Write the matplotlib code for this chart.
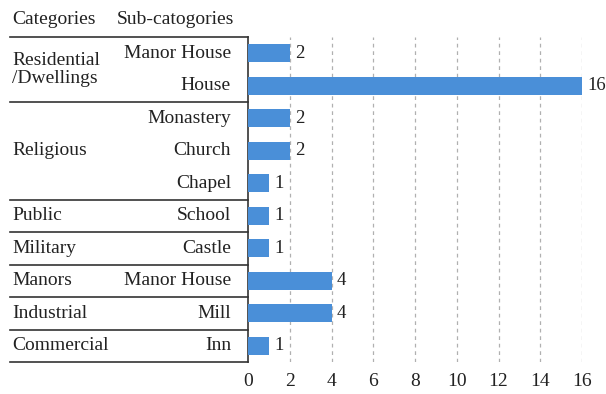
import numpy as np
import matplotlib.pyplot as plt

plt.rcParams['font.family'] = ['Liberation Serif', 'DejaVu Serif']

categories = ["Residential\n/Dwellings", "Religious", "Public", "Military",
              "Manors", "Industrial", "Commercial"]
group_sizes = [2, 3, 1, 1, 1, 1, 1]
subcategories = ["Manor House", "House", "Monastery", "Church", "Chapel",
                 "School", "Castle", "Manor House", "Mill", "Inn"]
counts = [2, 16, 2, 2, 1, 1, 1, 4, 4, 1]
xticks = [0, 2, 4, 6, 8, 10, 12, 14, 16]

W, H = 606, 394
fs = 14
ax_w = 334
fig = plt.figure(figsize=(W / 100, H / 100), dpi=100)
ax = fig.add_axes([248 / W, 1 - 362 / H, ax_w / W, 325 / H])

y = np.arange(len(counts))
ax.barh(y, counts, height=0.55, color="#4a8fd8", zorder=3)
for yi, v in zip(y, counts):
    ax.annotate(str(v), (v, yi), xytext=(4, 0), textcoords="offset points",
                va="center", ha="left", fontsize=13.5, color="#222222")

ax.set_xlim(0, 16)
ax.set_ylim(len(counts) - 0.5, -0.5)
ax.set_xticks(xticks)
ax.set_yticks([])
ax.tick_params(axis="x", length=0, labelsize=fs, pad=8, colors="#222222")
for s in ax.spines.values():
    s.set_visible(False)
for t in xticks[1:]:
    ax.axvline(t, color="#b0b0b0", linestyle=(0, (3, 3)), linewidth=0.9, zorder=1)

tr = ax.get_yaxis_transform()
left = (10 - 248) / ax_w
line_kw = dict(color="#333333", linewidth=1.2, transform=tr, clip_on=False)

# table frame
ax.plot([0, 0], [-0.5, len(counts) - 0.5], **line_kw)
ax.plot([left, 0], [-0.5, -0.5], **line_kw)
start = 0
for cat, n in zip(categories, group_sizes):
    end = start + n
    ax.plot([left, 0], [end - 0.5, end - 0.5], **line_kw)
    ax.text((12 - 248) / ax_w, (start + end - 1) / 2, cat, transform=tr,
            ha="left", va="center", fontsize=fs, linespacing=1.05, color="#222222")
    start = end

for yi, name in zip(y, subcategories):
    ax.text((231 - 248) / ax_w, yi, name, transform=tr, ha="right", va="center",
            fontsize=fs, color="#222222")

fig.text(12 / W, 1 - 19 / H, "Categories", ha="left", va="center",
         fontsize=fs, color="#222222")
fig.text(117 / W, 1 - 19 / H, "Sub-catogories", ha="left", va="center",
         fontsize=fs, color="#222222")

fig.savefig("out.png", dpi=100)
